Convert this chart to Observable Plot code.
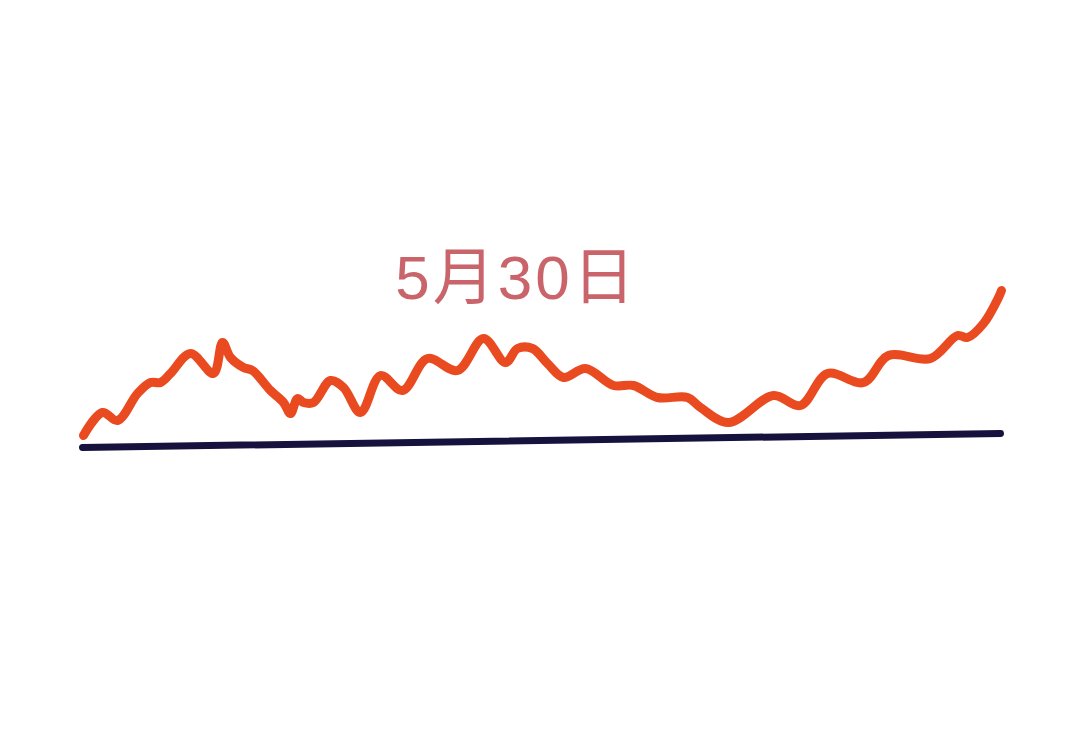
<!DOCTYPE html>
<html>
<head>
<meta charset="utf-8">
<script src="https://cdn.jsdelivr.net/npm/d3@7"></script>
<script src="https://cdn.jsdelivr.net/npm/@observablehq/plot@0.6"></script>
<style>
html,body{margin:0;padding:0;background:#fff;}
#chart svg{display:block;}
</style>
</head>
<body>
<div id="chart"></div>
<script>
// time index (trading progress) and index level above the baseline start
const t = [3, 22, 37, 57, 70, 80, 90, 110, 133, 142, 150, 163, 172, 190, 203, 210, 217, 223, 233, 250, 263, 280, 300,
  322, 347, 377, 403, 425, 437, 452, 467, 483, 505, 533, 553, 577, 607, 620,
  648, 693, 720, 747, 783, 808, 850, 877, 887, 903, 918, 921];
const level = [12, 35, 27, 54, 65, 65, 74, 94, 74, 105, 90, 80, 77, 57, 45, 34, 49, 45, 45, 67, 60, 35, 72,
  57, 89, 77, 109, 85, 99, 99, 84, 70, 79, 62, 62, 50, 50, 40,
  25, 52, 42, 74, 65, 92, 89, 112, 110, 124, 150, 157];
// baseline (reference level)
const baseT = [2, 920];
const baseLevel = [0, 14];
// label
const labelText = ["5月30日"];
const labelT = [436];
const labelLevel = [168];

const series = t.map((d, i) => ({t: d, v: level[i]}));
const base = baseT.map((d, i) => ({t: d, v: baseLevel[i]}));
const labels = labelText.map((s, i) => ({s, t: labelT[i], v: labelLevel[i]}));

const chart = Plot.plot({
  width: 1080,
  height: 732,
  margin: 0,
  x: {domain: [-80, 1000], axis: null},
  y: {domain: [-285, 447], axis: null},
  marks: [
    Plot.line(base, {x: "t", y: "v", stroke: "#15133d", strokeWidth: 7, strokeLinecap: "round"}),
    Plot.line(series, {x: "t", y: "v", stroke: "#ea4a1f", strokeWidth: 9, curve: "catmull-rom", strokeLinecap: "round", strokeLinejoin: "round"}),
    Plot.text(labels, {x: "t", y: "v", text: "s", fontSize: 62, fill: "#c9646b",
      fontFamily: "'Liberation Sans', 'Noto Sans CJK SC', sans-serif", textAnchor: "middle"})
  ]
});
chart.querySelectorAll("text").forEach(n => n.setAttribute("letter-spacing", "3"));
document.getElementById("chart").append(chart);
</script>
</body>
</html>
